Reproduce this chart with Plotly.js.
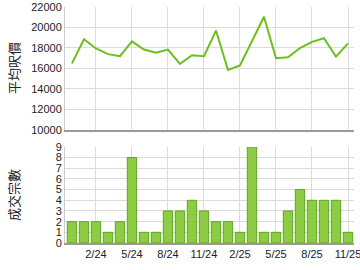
<!DOCTYPE html>
<html><head><meta charset="utf-8">
<script src="https://cdn.plot.ly/plotly-3.0.1.min.js"></script>
<style>html,body{margin:0;padding:0;background:#fff}#c{width:360px;height:270px}</style>
</head><body><div id="c"></div>
<script>
var months = ['12/23','1/24','2/24','3/24','4/24','5/24','6/24','7/24','8/24','9/24','10/24','11/24','12/24','1/25','2/25','3/25','4/25','5/25','6/25','7/25','8/25','9/25','10/25','11/25'];
var avgPrice = [16500,18850,17950,17400,17200,18650,17850,17550,17850,16450,17300,17200,19700,15850,16300,18700,21050,17000,17100,18000,18600,18950,17150,18450];
var deals = [2,2,2,1,2,8,1,1,3,3,4,3,2,2,1,9,1,1,3,5,4,4,4,1];
var tickLabels = ['2/24','5/24','8/24','11/24','2/25','5/25','8/25','11/25'];

var idx = months.map(function(_, i){ return i; });
var tickVals = tickLabels.map(function(t){ return months.indexOf(t); });

var font = {family:'Liberation Sans, Arial, sans-serif', size:11, color:'#222'};
var grid = '#dcdcdc';

var traces = [
  {x: idx, y: avgPrice, type:'scatter', mode:'lines', xaxis:'x2', yaxis:'y2',
   line:{color:'#6cbf1a', width:2}, hoverinfo:'none'},
  {x: idx, y: deals, type:'bar', xaxis:'x', yaxis:'y', width:0.78,
   marker:{color:'#8fcc45', line:{color:'#5ea51c', width:1}}, hoverinfo:'none'}
];

var xr = [-0.58, 23.5];
var layout = {
  width:360, height:270, showlegend:false,
  paper_bgcolor:'#fff', plot_bgcolor:'#fff',
  margin:{l:65, r:6, t:7, b:27},
  font: font,
  xaxis:{domain:[0,1], range:xr, tickvals:tickVals, ticktext:tickLabels, showgrid:true, gridcolor:grid,
         zeroline:false, showline:true, linecolor:'#999', linewidth:2, ticks:'', tickfont:font, anchor:'y',
         ticklabeloverflow:'allow'},
  yaxis:{domain:[0,0.407], range:[0,9], dtick:1, showgrid:true, gridcolor:grid, zeroline:false,
         showline:true, linecolor:'#ccc', linewidth:1, ticks:'', tickfont:font, anchor:'x'},
  xaxis2:{domain:[0,1], range:xr, tickvals:tickVals, showticklabels:false, showgrid:true, gridcolor:grid,
          zeroline:false, showline:true, linecolor:'#999', linewidth:2, ticks:'', anchor:'y2'},
  yaxis2:{domain:[0.479,1], range:[10000,22000], dtick:2000, tickformat:'d', showgrid:true, gridcolor:grid, zeroline:false,
          showline:true, linecolor:'#ccc', linewidth:1, ticks:'', tickfont:font, anchor:'x2'},
  annotations:[
    {text:'平均呎價', xref:'paper', yref:'paper', x:-0.18, y:0.7415, xanchor:'center', yanchor:'middle',
     showarrow:false, textangle:-90,
     font:{family:'Noto Sans CJK TC, sans-serif', size:13, color:'#222'}},
    {text:'成交宗數', xref:'paper', yref:'paper', x:-0.18, y:0.203, xanchor:'center', yanchor:'middle',
     showarrow:false, textangle:-90,
     font:{family:'Noto Sans CJK TC, sans-serif', size:13, color:'#222'}}
  ]
};
Plotly.newPlot('c', traces, layout, {staticPlot:true, displayModeBar:false});
</script></body></html>
